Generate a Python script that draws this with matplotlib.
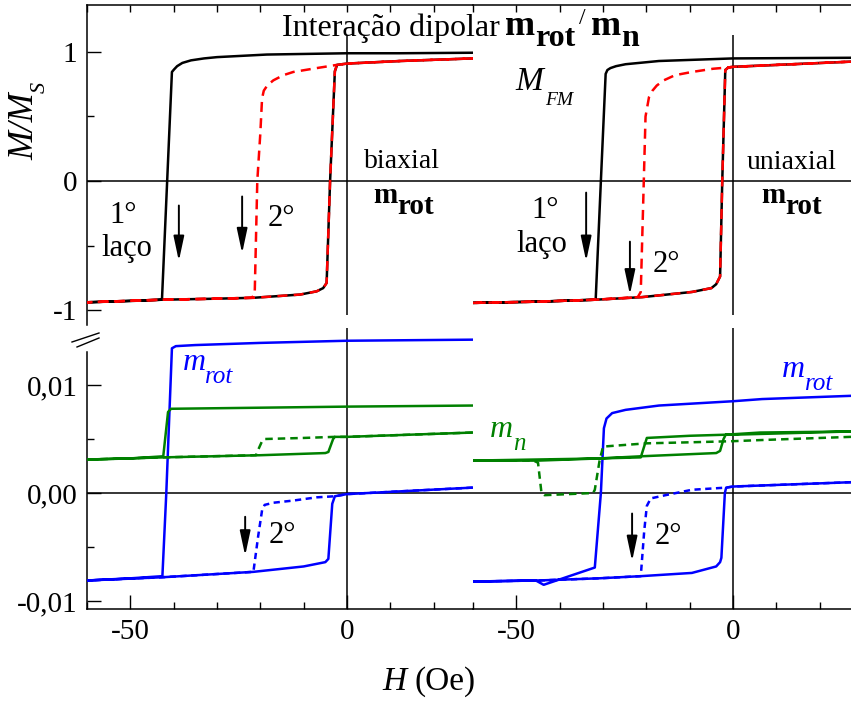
import matplotlib
matplotlib.use("Agg")
import matplotlib.pyplot as plt
from matplotlib.lines import Line2D
from matplotlib.ticker import FixedLocator, FixedFormatter

plt.rcParams['font.family'] = 'Liberation Serif'
plt.rcParams['axes.unicode_minus'] = False


# M/Ms loops, biaxial anisotropy (H in Oe)
bi_h_desc1 = [29, 12, 0, -18.5, -30, -33, -36, -38, -39.2, -39.9, -40.4, -41.5, -42.7, -50, -60]
bi_m_desc1 = [0.994, 0.99, 0.99, 0.98, 0.96, 0.95, 0.935, 0.915, 0.89, 0.865, 0.845, 0.0, -0.92, -0.93, -0.94]
bi_h_asc = [-60, -42.7, -30, -21.5, -10.8, -7, -5.5, -4.7, -3.9, -2.8, -2.3, 0, 12.3, 29]
bi_m_asc = [-0.94, -0.92, -0.912, -0.905, -0.88, -0.855, -0.83, -0.79, 0.0, 0.85, 0.90, 0.91, 0.93, 0.95]
bi_h_desc2 = [29, 12.3, 0, -2.3, -7, -12.4, -14.7, -17, -18.4, -19.2, -19.6, -20.0, -20.7, -21.3, -22, -30, -42.7, -60]
bi_m_desc2 = [0.95, 0.93, 0.91, 0.90, 0.875, 0.845, 0.82, 0.78, 0.74, 0.70, 0.64, 0.37, 0.0, -0.88, -0.905, -0.912, -0.92, -0.94]

# M/Ms loops, uniaxial anisotropy
un_h_desc1 = [27.2, 0, -17.1, -24.8, -27.0, -28.3, -29.0, -29.4, -30.5, -31.7, -45, -60.5]
un_m_desc1 = [0.955, 0.95, 0.93, 0.905, 0.89, 0.875, 0.86, 0.83, 0.0, -0.92, -0.935, -0.945]
un_h_asc = [-60.5, -45, -31.7, -21, -9.5, -5, -3.9, -3.0, -2.5, -1.8, -1.1, 0, 13.7, 27.2]
un_m_asc = [-0.945, -0.935, -0.92, -0.90, -0.86, -0.83, -0.80, -0.74, 0.0, 0.86, 0.88, 0.885, 0.905, 0.925]
un_h_desc2 = [27.2, 13.7, 0, -1.1, -4.6, -9.5, -13.4, -16, -17.6, -18.6, -19.4, -20.2, -20.6, -21.3, -22, -31.7, -45, -60.5]
un_m_desc2 = [0.925, 0.905, 0.885, 0.88, 0.87, 0.845, 0.82, 0.78, 0.74, 0.70, 0.65, 0.5, 0.0, -0.86, -0.90, -0.92, -0.935, -0.945]

# m_rot and m_n, biaxial
bi_rot_h_desc1 = [29, 0, -20, -35, -39.5, -40.4, -41.7, -42.6, -50, -60]
bi_rot_m_desc1 = [0.0142, 0.0141, 0.0139, 0.0137, 0.0136, 0.0134, 0.0, -0.0077, -0.0079, -0.0081]
bi_rot_h_asc = [-60, -42.6, -21.6, -10, -5, -4.3, -3.4, -2.8, 0, 29]
bi_rot_m_asc = [-0.0081, -0.0078, -0.0073, -0.0068, -0.0064, -0.0061, -0.0010, -0.0003, -0.0001, 0.0005]
bi_rot_h_desc2 = [29, 0, -2.8, -7, -12.4, -17, -19, -19.6, -20.5, -21.6, -30, -42.6, -60]
bi_rot_m_desc2 = [0.0005, -0.0001, -0.0003, -0.0004, -0.0007, -0.0009, -0.0011, -0.0016, -0.0040, -0.0073, -0.0075, -0.0078, -0.0081]

bi_n_h_desc1 = [29, 0, -20, -40.6, -41.3, -42.4, -50, -60]
bi_n_m_desc1 = [0.0081, 0.0080, 0.0079, 0.0078, 0.0075, 0.0034, 0.0032, 0.0031]
bi_n_h_asc = [-60, -42.4, -20, -5, -4.3, -3.2, -2.8, 0, 29]
bi_n_m_asc = [0.0031, 0.0033, 0.0035, 0.0037, 0.0038, 0.0050, 0.0052, 0.0052, 0.0056]
bi_n_h_desc2 = [29, 0, -2.8, -10, -19, -19.6, -20.5, -21, -42.4, -60]
bi_n_m_desc2 = [0.0056, 0.0052, 0.0052, 0.0051, 0.0050, 0.0048, 0.0040, 0.0035, 0.0033, 0.0031]

# m_rot and m_n, uniaxial
un_rot_h_desc1 = [27.2, 6.7, 0, -17.1, -24.8, -27.9, -29.2, -29.8, -30.5, -31.9, -43.7, -45.5, -60.5]
un_rot_m_desc1 = [0.0090, 0.0087, 0.0085, 0.0081, 0.0077, 0.0074, 0.0069, 0.0060, 0.0, -0.0069, -0.0085, -0.0081, -0.0082]
un_rot_h_asc = [-60.5, -45, -31, -21.3, -9.5, -3.9, -3.0, -2.7, -1.9, -1.6, 0, 27.2]
un_rot_m_asc = [-0.0082, -0.0081, -0.0079, -0.0077, -0.0074, -0.0068, -0.0064, -0.0060, 0.0, 0.0005, 0.0006, 0.0010]
un_rot_h_desc2 = [27.2, 0, -1.6, -9.5, -15.6, -19, -19.9, -20.5, -21.3, -31, -45, -60.5]
un_rot_m_desc2 = [0.0010, 0.0006, 0.0005, 0.0003, -0.0002, -0.0005, -0.0012, -0.0035, -0.0077, -0.0079, -0.0081, -0.0082]

un_n_h_desc1 = [27.2, 6.2, -1.7, -10, -19.9, -21.3, -31, -45, -60.5]
un_n_m_desc1 = [0.0057, 0.0056, 0.0054, 0.0053, 0.0051, 0.0033, 0.0032, 0.0030, 0.0030]
un_n_h_asc = [-60.5, -31, -21.3, -3.9, -3.0, -2.2, -1.7, 0, 27.2]
un_n_m_asc = [0.0030, 0.0032, 0.0034, 0.0037, 0.0039, 0.0050, 0.0054, 0.0054, 0.0057]
un_n_h_desc2 = [27.2, 6.2, 0, -9.5, -20, -30, -30.8, -31.9, -32.3, -43.5, -44.2, -45, -46, -60.5]
un_n_m_desc2 = [0.0052, 0.0049, 0.0048, 0.0047, 0.0046, 0.0043, 0.0030, 0.0003, 0.0000, -0.0002, 0.0000, 0.0028, 0.0030, 0.0030]

top_ticks = [-1, 0, 1]
top_ticklabels = ['-1', '0', '1']
bot_ticks = [-0.01, 0.0, 0.01]
bot_ticklabels = ['-0,01', '0,00', '0,01']
h_ticks = [-50, 0]
h_ticklabels = ['-50', '0']
h_minor = [-60, -40, -30, -20, -10, 10, 20]

W, H = 851, 702
fig = plt.figure(figsize=(W / 100, H / 100), dpi=100)


def box(x0, y0, x1, y1):
    # pixel box (top-left origin) -> figure fraction rect
    return [x0 / W, 1 - y1 / H, (x1 - x0) / W, (y1 - y0) / H]


def ftext(x, y, s, **kw):
    # text placed by pixel position, left/baseline anchored
    kw.setdefault('ha', 'left')
    kw.setdefault('va', 'baseline')
    return fig.text(x / W, 1 - y / H, s, **kw)


ax_tl = fig.add_axes(box(87, 5, 473, 325))
ax_tr = fig.add_axes(box(473, 5, 851, 325))
ax_bl = fig.add_axes(box(87, 328, 473, 609))
ax_br = fig.add_axes(box(473, 328, 851, 609))

top_ylim = (-1.116, 1.364)
bot_ylim = (-0.01074, 0.01528)

for ax, xlim in [(ax_tl, (-60, 29.08)), (ax_tr, (-60, 27.2)),
                 (ax_bl, (-60, 29.08)), (ax_br, (-60, 27.2))]:
    ax.set_xlim(*xlim)
    ax.patch.set_visible(False)
    for s in ax.spines.values():
        s.set_linewidth(1.1)
    ax.spines['right'].set_visible(False)
    ax.xaxis.set_major_locator(FixedLocator(h_ticks))
    ax.xaxis.set_minor_locator(FixedLocator(h_minor))

lw = 1.8
for ax in (ax_tl, ax_tr):
    ax.set_ylim(*top_ylim)
    ax.spines['bottom'].set_visible(False)
    ax.tick_params(axis='x', which='both', direction='in', top=True, bottom=False,
                   labelbottom=False, length=5, width=1)
    ax.axhline(0, color='black', lw=1.1, zorder=1)
    ax.vlines(0, -1.04, 1.13, color='black', lw=1.1, zorder=1)

for ax in (ax_bl, ax_br):
    ax.set_ylim(*bot_ylim)
    ax.spines['top'].set_visible(False)
    ax.tick_params(axis='x', which='major', direction='in', length=10, width=1,
                   labelsize=21, pad=7)
    ax.tick_params(axis='x', which='minor', direction='in', length=5, width=1)
    ax.xaxis.set_major_formatter(FixedFormatter(h_ticklabels))
    ax.axhline(0, color='black', lw=1.1, zorder=1)
    ax.axvline(0, color='black', lw=1.1, zorder=1)

for ax in (ax_tr, ax_br):
    ax.spines['left'].set_visible(False)
    ax.tick_params(axis='y', which='both', left=False, labelleft=False)

# left axes y ticks
ax_tl.yaxis.set_major_locator(FixedLocator(top_ticks))
ax_tl.yaxis.set_major_formatter(FixedFormatter(top_ticklabels))
ax_tl.yaxis.set_minor_locator(FixedLocator([-0.5, 0.5]))
ax_bl.yaxis.set_major_locator(FixedLocator(bot_ticks))
ax_bl.yaxis.set_major_formatter(FixedFormatter(bot_ticklabels))
ax_bl.yaxis.set_minor_locator(FixedLocator([-0.005, 0.005]))
ax_bl.spines['left'].set_bounds(bot_ylim[0], 0.0131)
for ax in (ax_tl, ax_bl):
    ax.tick_params(axis='y', which='major', direction='in', length=10, width=1,
                   labelsize=21, pad=7)
    ax.tick_params(axis='y', which='minor', direction='in', length=5, width=1)

# magnetization loops: first loop solid black, second loop dashed red
ax_tl.plot(bi_h_desc1 + bi_h_asc, bi_m_desc1 + bi_m_asc, color='black', lw=lw, zorder=3)
ax_tl.plot(bi_h_desc2 + bi_h_asc, bi_m_desc2 + bi_m_asc, color='red', lw=lw,
           dashes=(4, 2.5), zorder=4)
ax_tr.plot(un_h_desc1 + un_h_asc, un_m_desc1 + un_m_asc, color='black', lw=lw, zorder=3)
ax_tr.plot(un_h_desc2 + un_h_asc, un_m_desc2 + un_m_asc, color='red', lw=lw,
           dashes=(4, 2.5), zorder=4)

blue, green = '#0000ff', '#008000'
ax_bl.plot(bi_rot_h_desc1 + bi_rot_h_asc, bi_rot_m_desc1 + bi_rot_m_asc, color=blue, lw=lw, zorder=3)
ax_bl.plot(bi_rot_h_desc2, bi_rot_m_desc2, color=blue, lw=lw, dashes=(2.5, 1.8), zorder=4)
ax_bl.plot(bi_n_h_desc1 + bi_n_h_asc, bi_n_m_desc1 + bi_n_m_asc, color=green, lw=lw, zorder=3)
ax_bl.plot(bi_n_h_desc2, bi_n_m_desc2, color=green, lw=lw, dashes=(3, 2), zorder=4)

ax_br.plot(un_rot_h_desc1 + un_rot_h_asc, un_rot_m_desc1 + un_rot_m_asc, color=blue, lw=lw, zorder=3)
ax_br.plot(un_rot_h_desc2, un_rot_m_desc2, color=blue, lw=lw, dashes=(2.5, 1.8), zorder=4)
ax_br.plot(un_n_h_desc1 + un_n_h_asc, un_n_m_desc1 + un_n_m_asc, color=green, lw=lw, zorder=3)
ax_br.plot(un_n_h_desc2, un_n_m_desc2, color=green, lw=lw, dashes=(3, 2), zorder=4)

# arrows marking the descending branches
arrow = dict(arrowstyle='-|>,head_length=1.5,head_width=0.32', color='black', lw=1.4,
             shrinkA=0, shrinkB=0)


def down_arrow(ax, x, y0, y1):
    ax.annotate('', xy=(x, y1), xytext=(x, y0), arrowprops=arrow)


down_arrow(ax_tl, -38.8, -0.19, -0.62)
down_arrow(ax_tl, -24.2, -0.12, -0.56)
down_arrow(ax_tr, -33.9, -0.09, -0.62)
down_arrow(ax_tr, -23.8, -0.47, -0.88)
down_arrow(ax_bl, -23.5, -0.0022, -0.0058)
down_arrow(ax_br, -23.3, -0.0019, -0.0063)

fs = 22
ax_tl.text(-51.7, -0.27, '1°', fontsize=fs, ha='center', va='center')
ax_tl.text(-50.8, -0.52, 'laço', fontsize=fs, ha='center', va='center')
ax_tl.text(-15.2, -0.29, '2°', fontsize=fs, ha='center', va='center')
ax_tl.text(12.7, 0.155, 'biaxial', fontsize=20, ha='center', va='center')

ax_tr.text(-43.4, -0.23, '1°', fontsize=fs, ha='center', va='center')
ax_tr.text(-44.1, -0.49, 'laço', fontsize=fs, ha='center', va='center')
ax_tr.text(-15.5, -0.65, '2°', fontsize=fs, ha='center', va='center')
ax_tr.text(13.6, 0.147, 'uniaxial', fontsize=20, ha='center', va='center')

ax_bl.text(-15.0, -0.0039, '2°', fontsize=fs, ha='center', va='center')
ax_br.text(-15.0, -0.0040, '2°', fontsize=fs, ha='center', va='center')

# labels with deep subscripts, built piece by piece
bold = dict(fontweight='bold')
for x_m, x_s in [(373, 397), (761, 785)]:
    ftext(x_m, 203, 'm', fontsize=21, **bold)
    ftext(x_s, 214, 'rot', fontsize=21, **bold)

ftext(183, 370, 'm', fontsize=23, style='italic', color=blue)
ftext(205, 383, 'rot', fontsize=18, style='italic', color=blue)
ftext(782, 377, 'm', fontsize=23, style='italic', color=blue)
ftext(805, 390, 'rot', fontsize=18, style='italic', color=blue)
ftext(490, 437, 'm', fontsize=23, style='italic', color=green)
ftext(513, 450, 'n', fontsize=18, style='italic', color=green)

ftext(515, 90, 'M', fontsize=24, style='italic')
ftext(545, 105, 'FM', fontsize=14, style='italic')

# title
ftext(282, 36, 'Interação dipolar', fontsize=23)
ftext(505, 35, 'm', fontsize=26, **bold)
ftext(535, 46, 'rot', fontsize=23, **bold)
ftext(579, 24, '/', fontsize=17)
ftext(591, 35, 'm', fontsize=26, **bold)
ftext(621, 46, 'n', fontsize=23, **bold)

# y label M/M_S (rotated)
ftext(33, 160, 'M/M', fontsize=25, style='italic', rotation=90, rotation_mode='anchor')
ftext(45, 93, 'S', fontsize=16, style='italic', rotation=90, rotation_mode='anchor')

# x label
ftext(382, 690, 'H', fontsize=24, style='italic')
ftext(414, 690, '(Oe)', fontsize=24)

# axis break marks between the two y ranges
for dx, dy in [(0, 0), (5, 5)]:
    fig.add_artist(Line2D([(72 + dx) / W, 99 / W],
                          [1 - (342 + dy) / H, 1 - (333 + dy) / H],
                          color='black', lw=1.0))

fig.savefig('out.png', dpi=100)
